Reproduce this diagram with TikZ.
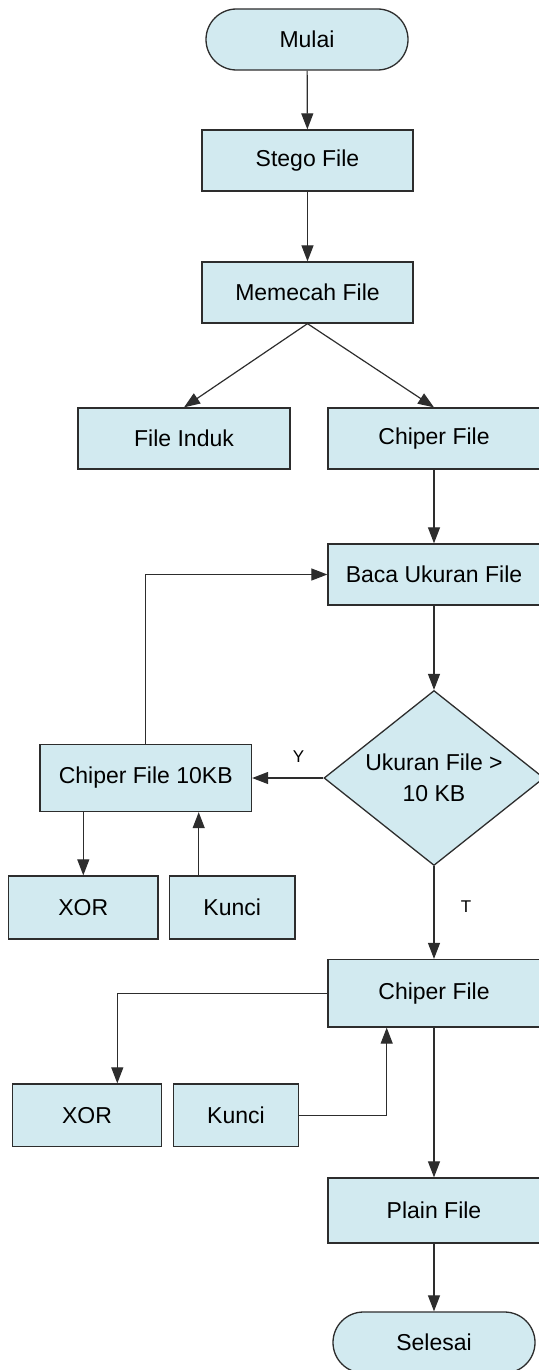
\documentclass[tikz,border=0pt]{standalone}
\usepackage{fontspec}
\setmainfont{Liberation Sans}
\usetikzlibrary{arrows.meta,calc,shapes.geometric,shapes.misc}
\definecolor{FcFill}{RGB}{210,234,240}
\definecolor{FcLine}{RGB}{45,45,45}
\definecolor{FcInk}{RGB}{0,0,0}
\tikzset{
  fc/box/.style={
    draw=FcLine,
    line width=1.3pt,
    fill=FcFill,
    align=center,
    text=FcInk,
    minimum height=61pt,
    inner sep=0pt,
    font=\fontsize{23}{31}\selectfont
  },
  fc/terminal/.style={
    fc/box,
    rounded rectangle,
    minimum width=202pt
  },
  fc/decision/.style={
    fc/box,
    diamond,
    aspect=1.25,
    minimum width=220pt,
    minimum height=175pt
  },
  fc/arrow/.style={-{Triangle[length=16pt,width=12pt]}, line width=1.2pt, draw=FcLine},
  fc/tinylabel/.style={font=\fontsize{17}{20}\selectfont, text=FcInk}
}

\begin{document}
\begin{tikzpicture}[x=1pt,y=1pt]
  \useasboundingbox (0,0) rectangle (538,-1370);

  \node[fc/terminal] (mulai) at (307,-39.5) {Mulai};
  \node[fc/box,minimum width=211pt] (stego) at (307.5,-160.5) {Stego File};
  \node[fc/box,minimum width=211pt] (pecah) at (307.5,-292.5) {Memecah File};
  \node[fc/box,minimum width=212pt] (induk) at (184,-438.5) {File Induk};
  \node[fc/box,minimum width=212pt] (chiper) at (434,-438.5) {Chiper File};
  \node[fc/box,minimum width=212pt] (baca) at (434,-574.5) {Baca Ukuran File};
  \node[fc/decision] (cek) at (434,-778) {Ukuran File >\\10 KB};
  \node[fc/box,minimum width=211.5pt,minimum height=67pt] (chipersplit) at (145.75,-778) {Chiper File 10KB};
  \node[fc/box,minimum width=149.5pt,minimum height=63pt] (xorsplit) at (83.3,-907.5) {XOR};
  \node[fc/box,minimum width=125.5pt,minimum height=63pt] (kuncisplit) at (232.2,-907.5) {Kunci};
  \node[fc/box,minimum width=212pt,minimum height=67.5pt] (chiperfull) at (434,-993.25) {Chiper File};
  \node[fc/box,minimum width=148.5pt,minimum height=62.5pt] (xorfull) at (87,-1115.25) {XOR};
  \node[fc/box,minimum width=124.5pt,minimum height=62.5pt] (kuncifull) at (236,-1115.25) {Kunci};
  \node[fc/box,minimum width=212pt,minimum height=65pt] (plain) at (434,-1210.5) {Plain File};
  \node[fc/terminal] (selesai) at (434,-1342.5) {Selesai};

  \node[fc/tinylabel] (ya) at (298.5,-757) {Y};
  \node[fc/tinylabel] (tidak) at (466,-907) {T};

  \draw[fc/arrow] (mulai) -- (stego);
  \draw[fc/arrow] (stego) -- (pecah);
  \draw[fc/arrow] (pecah.south) -- (induk.north);
  \draw[fc/arrow] (pecah.south) -- (chiper.north);
  \draw[fc/arrow] (chiper) -- (baca);
  \draw[fc/arrow] (baca) -- (cek.north);
  \draw[fc/arrow] (cek.west) -- (chipersplit.east);
  \draw[fc/arrow] (chipersplit.north) |- (baca.west);
  \draw[fc/arrow] (xorsplit.north |- chipersplit.south) -- (xorsplit.north);
  \draw[fc/arrow] ([xshift=-33.5pt]kuncisplit.north) -- ([xshift=-33.5pt]kuncisplit.north |- chipersplit.south);
  \draw[fc/arrow] (cek.south) -- (chiperfull.north);
  \draw[fc/arrow] (chiperfull.west) -| ([xshift=30.3pt]xorfull.north);
  \draw[fc/arrow] (kuncifull.east) -| ([xshift=-47.3pt]chiperfull.south);
  \draw[fc/arrow] (chiperfull) -- (plain);
  \draw[fc/arrow] (plain) -- (selesai);
\end{tikzpicture}
\end{document}
